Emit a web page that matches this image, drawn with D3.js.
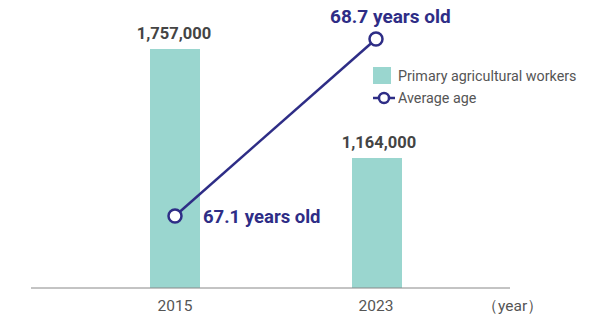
<!DOCTYPE html>
<html>
<head>
<meta charset="utf-8">
<script src="https://cdn.jsdelivr.net/npm/d3@7"></script>
<style>
  body { margin: 0; background: #fff; }
  svg { display: block; font-family: Roboto, sans-serif; }
</style>
</head>
<body>
<div id="chart"></div>
<script>
// data
const years = ['2015', '2023'];
const workers = [1757000, 1164000];
const workerLabels = ['1,757,000', '1,164,000'];
const avgAge = [67.1, 68.7];
const ageLabels = ['67.1 years old', '68.7 years old'];

const width = 614, height = 318;
const barColor = '#9ad6cf', lineColor = '#2e2d86';

const svg = d3.select('#chart').append('svg')
  .attr('width', width)
  .attr('height', height);

const x = d3.scalePoint()
  .domain(years)
  .range([175, 376]);

// bar axis doesn't start at zero in the original
const yBar = d3.scaleLinear()
  .domain([457000, 1757000])
  .range([288, 49]);

const yAge = d3.scaleLinear()
  .domain([67.1, 68.7])
  .range([216, 39]);

const barW = 50;

// bars
svg.selectAll('.bar')
  .data(workers)
  .enter().append('rect')
  .attr('class', 'bar')
  .attr('x', (d, i) => x(years[i]) - barW / 2 + (i ? 1 : 0))
  .attr('y', d => yBar(d))
  .attr('width', barW)
  .attr('height', d => 288 - yBar(d))
  .attr('fill', barColor);

// bar value labels
svg.selectAll('.bar-label')
  .data(workers)
  .enter().append('text')
  .attr('x', (d, i) => x(years[i]) - 1 + (i ? 4 : 0))
  .attr('y', d => yBar(d) - 10)
  .attr('text-anchor', 'middle')
  .style('font-size', '16.5px')
  .style('font-weight', 'bold')
  .style('fill', '#444')
  .text((d, i) => workerLabels[i]);

// x axis
svg.append('line')
  .attr('x1', 31).attr('x2', 510)
  .attr('y1', 288).attr('y2', 288)
  .attr('stroke', '#888')
  .attr('stroke-width', 1);

svg.selectAll('.tick-label')
  .data(years)
  .enter().append('text')
  .attr('x', d => x(d))
  .attr('y', 311)
  .attr('text-anchor', 'middle')
  .style('font-size', '15.5px')
  .style('fill', '#555')
  .text(d => d);

svg.append('text')
  .attr('x', 482).attr('y', 311)
  .style('font-size', '15.5px')
  .style('fill', '#555')
  .text('（year）');

// average age line
const line = d3.line()
  .x((d, i) => x(years[i]))
  .y(d => yAge(d));

svg.append('path')
  .datum(avgAge)
  .attr('d', line)
  .attr('fill', 'none')
  .attr('stroke', lineColor)
  .attr('stroke-width', 2.5);

svg.selectAll('.dot')
  .data(avgAge)
  .enter().append('circle')
  .attr('cx', (d, i) => x(years[i]))
  .attr('cy', d => yAge(d))
  .attr('r', 6.5)
  .attr('fill', '#fff')
  .attr('stroke', lineColor)
  .attr('stroke-width', 2.5);

// age labels
svg.append('text')
  .attr('x', 203).attr('y', 223)
  .style('font-size', '18.5px')
  .style('font-weight', 'bold')
  .style('fill', lineColor)
  .text(ageLabels[0]);

svg.append('text')
  .attr('x', 330).attr('y', 23)
  .style('font-size', '19px')
  .style('font-weight', 'bold')
  .style('fill', lineColor)
  .text(ageLabels[1]);

// legend
const legend = svg.append('g').attr('transform', 'translate(373,67)');
legend.append('rect')
  .attr('width', 18).attr('height', 17)
  .attr('fill', barColor);
legend.append('text')
  .attr('x', 25).attr('y', 14)
  .style('font-size', '14.3px')
  .style('fill', '#555')
  .text('Primary agricultural workers');
legend.append('line')
  .attr('x1', 0).attr('x2', 22)
  .attr('y1', 31).attr('y2', 31)
  .attr('stroke', lineColor).attr('stroke-width', 2.5);
legend.append('circle')
  .attr('cx', 11).attr('cy', 31).attr('r', 5)
  .attr('fill', '#fff')
  .attr('stroke', lineColor).attr('stroke-width', 2.5);
legend.append('text')
  .attr('x', 25).attr('y', 36)
  .style('font-size', '14.3px')
  .style('fill', '#555')
  .text('Average age');
</script>
</body>
</html>
